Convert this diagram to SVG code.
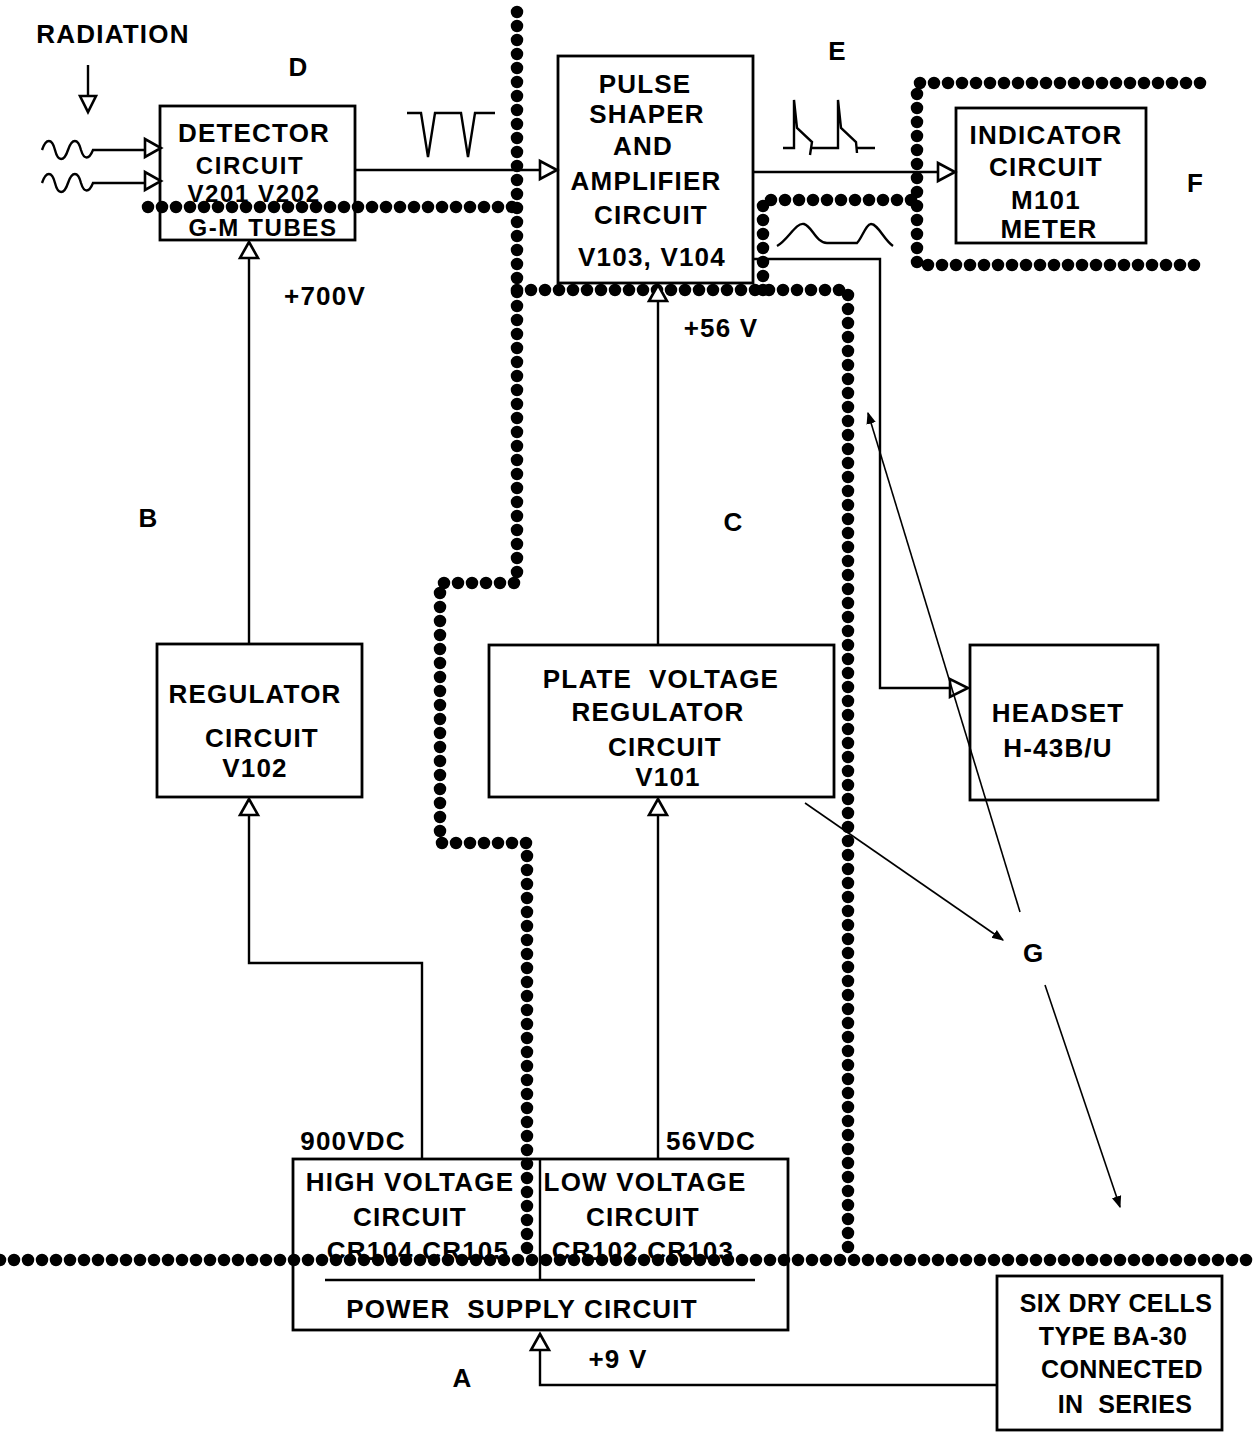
<svg xmlns="http://www.w3.org/2000/svg" width="1256" height="1432" viewBox="0 0 1256 1432">
<defs>
<style>
.bx{fill:none;stroke:#000;stroke-width:2.8}
.ln{fill:none;stroke:#000;stroke-width:2.4}
.thin{fill:none;stroke:#000;stroke-width:1.6}
.dot{fill:none;stroke:#000;stroke-width:12.5;stroke-linecap:round;stroke-dasharray:0 14}
.hd{fill:#fff;stroke:#000;stroke-width:2.6;stroke-linejoin:miter}
.t{font-family:"Liberation Sans",Arial,sans-serif;font-weight:bold;font-size:26px;fill:#000;text-anchor:middle;letter-spacing:1.2px}
.s{font-size:24px;letter-spacing:1.6px}
.b{font-size:25px;letter-spacing:0.4px}
.lab{font-family:"Liberation Sans",Arial,sans-serif;font-weight:bold;font-size:26px;fill:#000;text-anchor:middle}
</style>
<marker id="ah" viewBox="0 0 10 10" refX="9" refY="5" markerWidth="12" markerHeight="12" markerUnits="userSpaceOnUse" orient="auto">
<path d="M0,1 L10,5 L0,9 Z" fill="#000"/>
</marker>
</defs>
<rect width="1256" height="1432" fill="#fff"/>

<g id="dotted-boundaries">
<path class="dot" d="M517,12 V583 H440 V843 H527 V1258"/>
<path class="dot" d="M148,207 H517"/>
<path class="dot" d="M517,290 H848 V1258"/>
<path class="dot" d="M763,290 V200 H917"/>
<path class="dot" d="M1200,83 H917 V265 H1200"/>
<path class="dot" d="M0,1260 H1256"/>
</g>

<g id="connectors">
<line class="ln" x1="88" y1="65" x2="88" y2="96"/>
<polygon class="hd" points="80,96 96,96 88,112"/>
<path class="ln" d="M42,150 c4,-12 10,-12 13,0 c3,12 9,12 13,0 c4,-12 10,-12 13,0 c3,10 8,10 12,0 H145"/>
<polygon class="hd" points="145,139 145,157 161,148"/>
<path class="ln" d="M42,183 c4,-12 10,-12 13,0 c3,12 9,12 13,0 c4,-12 10,-12 13,0 c3,10 8,10 12,0 H145"/>
<polygon class="hd" points="145,172 145,190 161,181"/>
<line class="ln" x1="355" y1="170" x2="540" y2="170"/>
<polygon class="hd" points="540,161 540,179 557,170"/>
<line class="ln" x1="753" y1="172" x2="938" y2="172"/>
<polygon class="hd" points="938,163 938,181 955,172"/>
<polyline class="ln" points="753,259 880,259 880,688 950,688"/>
<polygon class="hd" points="950,679 950,697 968,688"/>
<line class="ln" x1="249" y1="645" x2="249" y2="258"/>
<polygon class="hd" points="240,258 258,258 249,242"/>
<polyline class="ln" points="422,1158 422,963 249,963 249,815"/>
<polygon class="hd" points="240,815 258,815 249,799"/>
<line class="ln" x1="658" y1="645" x2="658" y2="301"/>
<polygon class="hd" points="649,301 667,301 658,285"/>
<line class="ln" x1="658" y1="1158" x2="658" y2="815"/>
<polygon class="hd" points="649,815 667,815 658,799"/>
<polyline class="ln" points="997,1385 540,1385 540,1350"/>
<polygon class="hd" points="531,1350 549,1350 540,1334"/>
<line class="thin" x1="805" y1="803" x2="1003" y2="940" marker-end="url(#ah)"/>
<line class="thin" x1="1020" y1="912" x2="868" y2="413" marker-end="url(#ah)"/>
<line class="thin" x1="1045" y1="985" x2="1120" y2="1207" marker-end="url(#ah)"/>
</g>

<g id="waveforms">
<path class="ln" d="M407,113 H421 L428,157 L435,113 H461 L468,157 L475,113 H495"/>
<path class="ln" d="M783,148 H794 V100 L797,128 L812,142 L810,155 M812,148 H838 V100 L841,128 L856,142 L857,153 M856,148 H875"/>
<path class="ln" d="M777,246 C788,240 796,222 804,224 C812,226 816,243 827,243 H857 C862,238 866,224 871,224 C878,224 884,240 893,246"/>
</g>

<g id="labels">
<text class="t" x="113" y="43">RADIATION</text>
<text class="lab" x="298" y="76">D</text>
<text class="lab" x="837" y="60">E</text>
<text class="lab" x="1195" y="192">F</text>
<text class="lab" x="148" y="527">B</text>
<text class="lab" x="733" y="531">C</text>
<text class="lab" x="1033" y="962">G</text>
<text class="lab" x="462" y="1387">A</text>
<text class="t" x="325" y="305">+700V</text>
<text class="t" x="721" y="337">+56 V</text>
<text class="t" x="353" y="1150">900VDC</text>
<text class="t" x="711" y="1150">56VDC</text>
<text class="t" x="618" y="1368">+9 V</text>
</g>

<g id="detector">
<rect class="bx" x="160" y="106" width="195" height="134"/>
<text class="t" x="254" y="142">DETECTOR</text>
<text class="t s" x="250" y="174">CIRCUIT</text>
<text class="t s" x="254" y="202">V201 V202</text>
<text class="t s" x="263" y="236">G-M TUBES</text>
</g>

<g id="pulse-shaper">
<rect class="bx" x="558" y="56" width="195" height="227"/>
<text class="t" x="645" y="93">PULSE</text>
<text class="t" x="647" y="123">SHAPER</text>
<text class="t" x="643" y="155">AND</text>
<text class="t" x="646" y="190">AMPLIFIER</text>
<text class="t" x="651" y="224">CIRCUIT</text>
<text class="t" x="652" y="266">V103, V104</text>
</g>

<g id="indicator">
<rect class="bx" x="956" y="108" width="190" height="135"/>
<text class="t" x="1046" y="144">INDICATOR</text>
<text class="t" x="1046" y="176">CIRCUIT</text>
<text class="t" x="1046" y="209">M101</text>
<text class="t" x="1049" y="238">METER</text>
</g>

<g id="regulator">
<rect class="bx" x="157" y="644" width="205" height="153"/>
<text class="t" x="255" y="703">REGULATOR</text>
<text class="t" x="262" y="747">CIRCUIT</text>
<text class="t" x="255" y="777">V102</text>
</g>

<g id="plate-regulator">
<rect class="bx" x="489" y="645" width="345" height="152"/>
<text class="t" x="661" y="688" xml:space="preserve">PLATE  VOLTAGE</text>
<text class="t" x="658" y="721">REGULATOR</text>
<text class="t" x="665" y="756">CIRCUIT</text>
<text class="t" x="668" y="786">V101</text>
</g>

<g id="headset">
<rect class="bx" x="970" y="645" width="188" height="155"/>
<text class="t" x="1058" y="722">HEADSET</text>
<text class="t" x="1058" y="757">H-43B/U</text>
</g>

<g id="power-supply">
<rect class="bx" x="293" y="1159" width="495" height="171"/>
<line class="ln" x1="540" y1="1159" x2="540" y2="1280"/>
<line class="ln" x1="325" y1="1280" x2="755" y2="1280"/>
<text class="t" x="410" y="1191">HIGH VOLTAGE</text>
<text class="t" x="410" y="1226">CIRCUIT</text>
<text class="t" x="418" y="1260">CR104 CR105</text>
<text class="t" x="645" y="1191">LOW VOLTAGE</text>
<text class="t" x="643" y="1226">CIRCUIT</text>
<text class="t" x="643" y="1260">CR102 CR103</text>
<text class="t" x="522" y="1318" xml:space="preserve">POWER  SUPPLY CIRCUIT</text>
</g>

<g id="batteries">
<rect class="bx" x="997" y="1276" width="225" height="154"/>
<text class="t b" x="1116" y="1312">SIX DRY CELLS</text>
<text class="t b" x="1113" y="1345">TYPE BA-30</text>
<text class="t b" x="1122" y="1378">CONNECTED</text>
<text class="t b" x="1125" y="1413" xml:space="preserve">IN  SERIES</text>
</g>
</svg>
